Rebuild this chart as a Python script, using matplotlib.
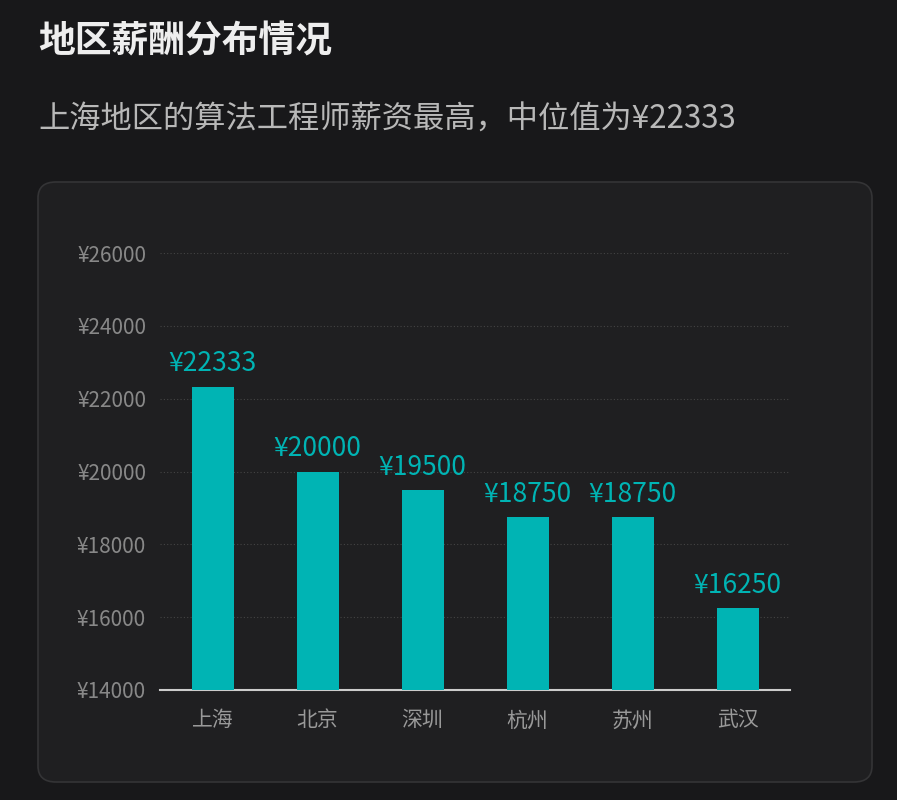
import matplotlib
matplotlib.use("Agg")
import matplotlib.pyplot as plt
from matplotlib.patches import FancyBboxPatch

plt.rcParams['font.family'] = ['Noto Sans CJK SC', 'DejaVu Sans']

cities = ["上海", "北京", "深圳", "杭州", "苏州", "武汉"]
salaries = [22333, 20000, 19500, 18750, 18750, 16250]
yticks = [14000, 16000, 18000, 20000, 22000, 24000, 26000]

W, H = 897, 800
fig = plt.figure(figsize=(W/100, H/100), dpi=100)
fig.patch.set_facecolor("#18181a")

card = FancyBboxPatch((38/W, (H-782)/H), (872-38)/W, (782-182)/H,
                      boxstyle="round,pad=0,rounding_size=0.02",
                      transform=fig.transFigure, facecolor="#1f1f21",
                      edgecolor="#343436", linewidth=1.2, zorder=-5)
fig.add_artist(card)

fig.text(38/W, 1-42/H, "地区薪酬分布情况", color="#eeeeee", fontsize=26.5,
         fontweight="bold", va="center", ha="left")
fig.text(38/W, 1-120/H, "上海地区的算法工程师薪资最高，中位值为¥22333", color="#b8b8b8",
         fontsize=22.5, va="center", ha="left")

ax = fig.add_axes([160/W, (H-690)/H, (790-160)/W, (690-253)/H])
ax.set_zorder(2)
ax.set_facecolor("none")
x = range(len(cities))
ax.bar(x, salaries, width=0.4, color="#00b4b4", zorder=3)
for i, v in zip(x, salaries):
    ax.text(i, v + 250, f"¥{v}", color="#00b4b4", fontsize=19, ha="center", va="bottom")
ax.set_xlim(-0.5, len(cities) - 0.5)
ax.set_ylim(14000, 26000)
ax.set_yticks(yticks)
ax.set_yticklabels([f"¥{t}" for t in yticks], color="#888888", fontsize=15)
ax.set_xticks(list(x))
ax.set_xticklabels(cities, color="#999999", fontsize=15)
ax.tick_params(length=0, pad=10)
ax.tick_params(axis='x', pad=14)
ax.grid(axis='y', color="#444444", linestyle=(0, (1, 2)), linewidth=0.8, zorder=0)
for s in ["top", "right", "left"]:
    ax.spines[s].set_visible(False)
ax.spines["bottom"].set_color("#cccccc")
ax.spines["bottom"].set_linewidth(1.5)

fig.savefig("out.png", dpi=100, facecolor=fig.get_facecolor())
